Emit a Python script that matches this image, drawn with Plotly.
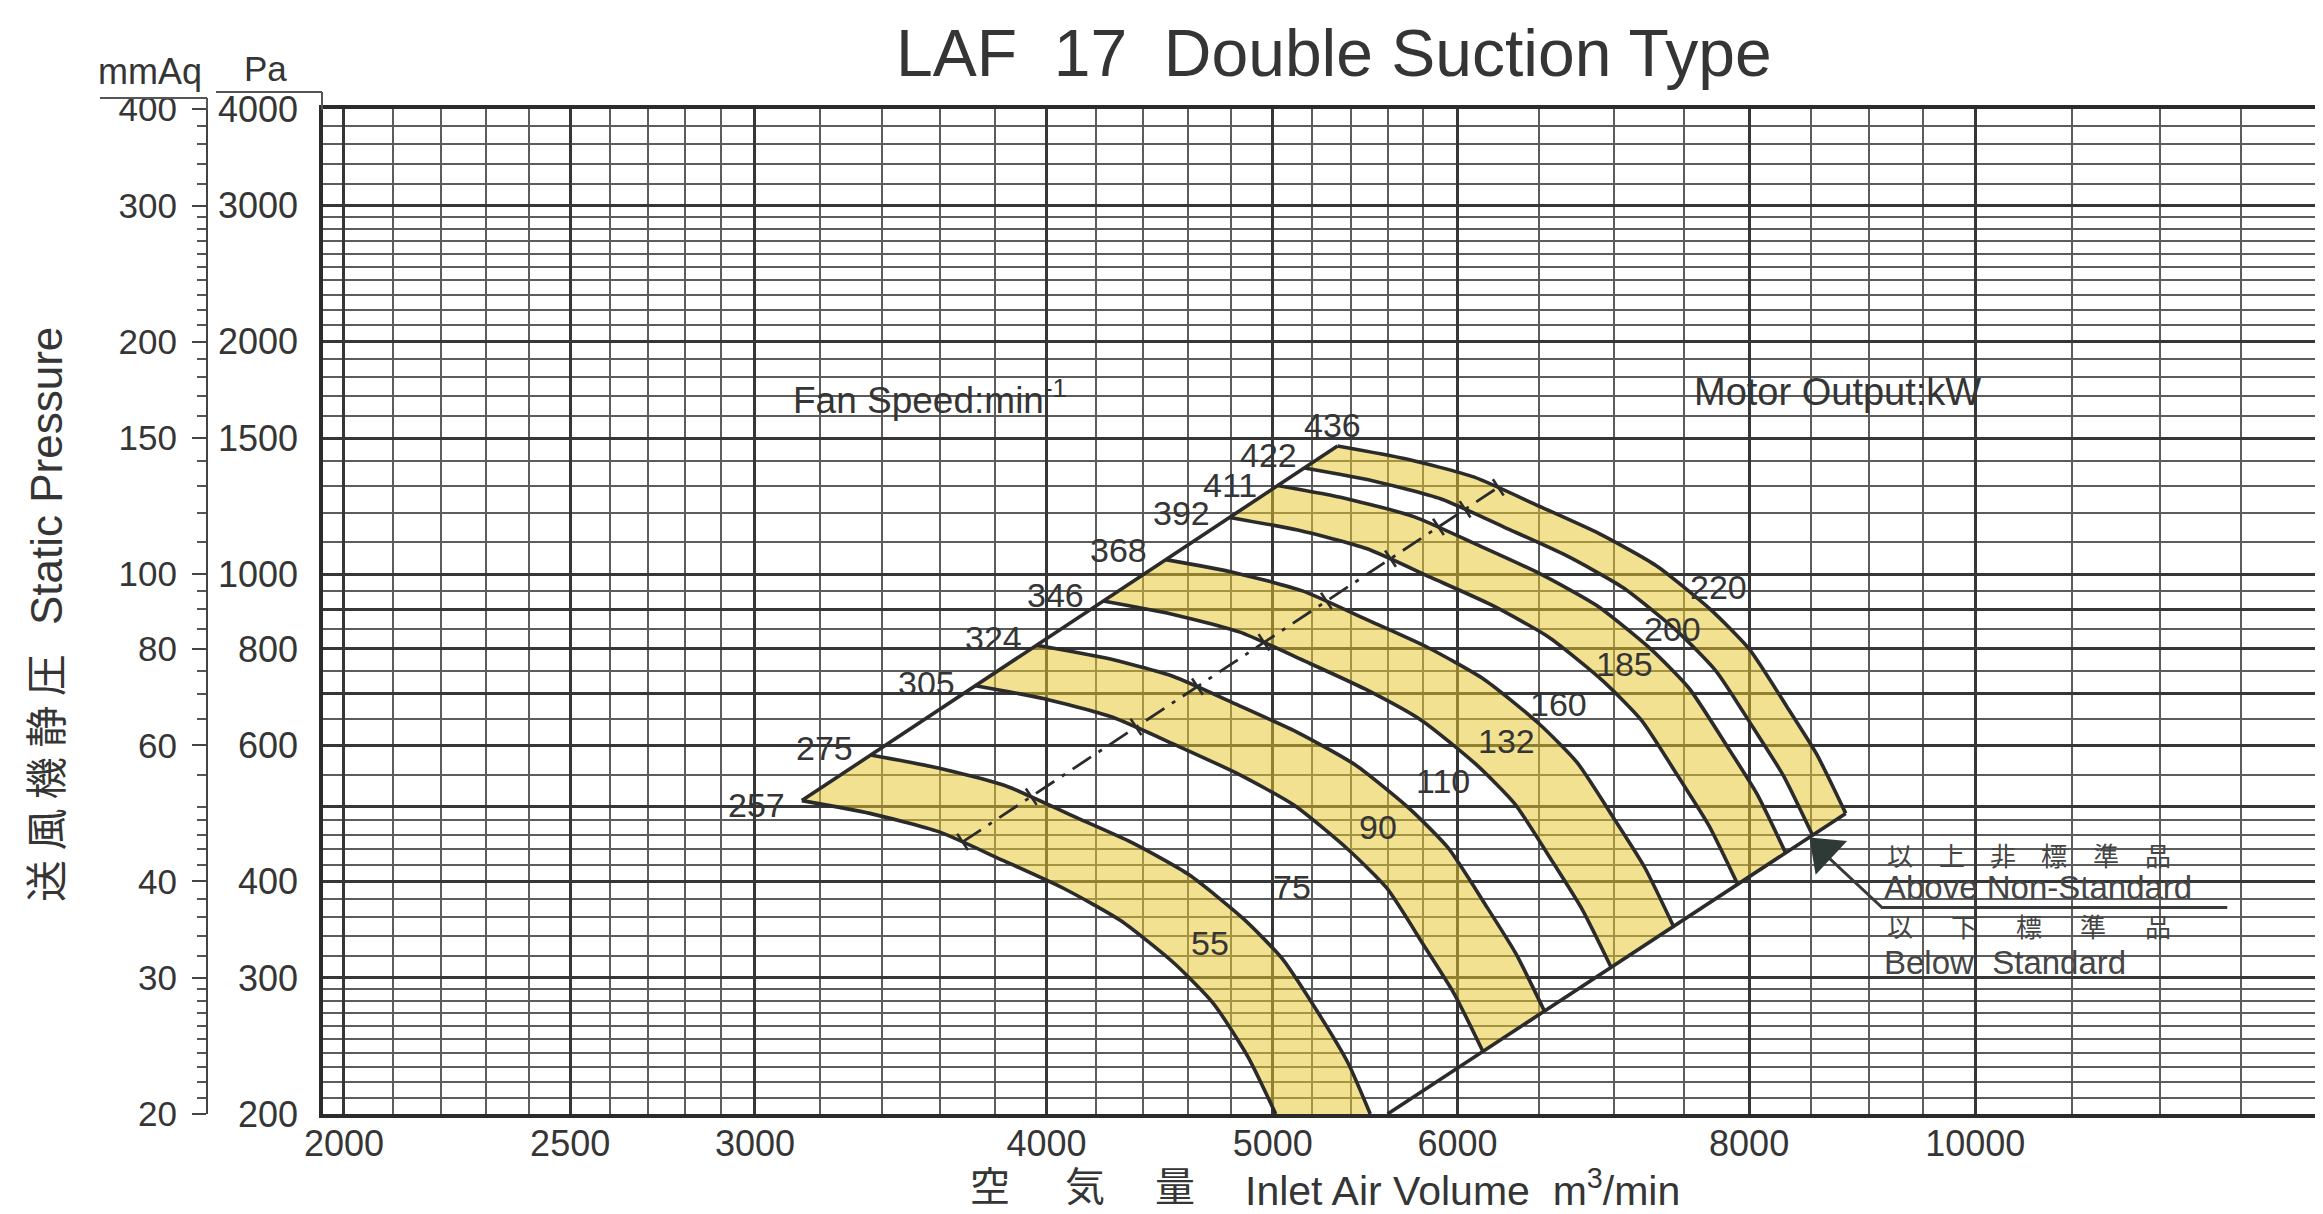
import numpy as np
import plotly.graph_objects as go

W, H = 2323, 1214

# ---------------- axes ----------------
X_RANGE = [1959, 14204]          # inlet air volume, m3/min
Y_RANGE = [200, 4000]            # static pressure, Pa
MMAQ_RANGE = [20, 400]           # static pressure, mmAq

X_MAJOR = [2000, 2500, 3000, 4000, 5000, 6000, 8000, 10000]
X_MAJOR_TEXT = ["2000", "2500", "3000", "4000", "5000", "6000", "8000", "10000"]
X_MINOR = [2100, 2200, 2300, 2400, 2600, 2700, 2800, 2900,
           3200, 3400, 3600, 3800, 4200, 4400, 4600, 4800,
           5200, 5400, 5600, 5800, 6500, 7000, 7500, 8500, 9000, 9500,
           11000, 12000, 13000, 14000]

Y_MAJOR = [200, 300, 400, 500, 600, 700, 800, 900, 1000, 1500, 2000, 3000, 4000]
Y_MAJOR_TEXT = ["200", "300", "400", " ", "600", " ", "800", " ", "1000", "1500", "2000", "3000", "4000"]
Y_MINOR = [210, 220, 230, 240, 250, 260, 270, 280, 290,
           320, 340, 360, 380, 420, 440, 460, 480, 550, 650, 750, 850, 950,
           1100, 1200, 1300, 1400, 1600, 1700, 1800, 1900,
           2100, 2200, 2300, 2400, 2500, 2600, 2700, 2800, 2900,
           3200, 3400, 3600, 3800]

MMAQ_TICKS = [20, 30, 40, 60, 80, 100, 150, 200, 300, 400]
MMAQ_TEXT = ["20", "30", "40", "60", "80", "100", "150", "200", "300", "400"]
MMAQ_MINOR = [21, 22, 23, 24, 25, 26, 27, 28, 29,
              32, 34, 36, 38, 42, 44, 46, 48, 50, 55, 65, 70, 75, 85, 90, 95,
              110, 120, 130, 140, 160, 170, 180, 190,
              210, 220, 230, 240, 250, 260, 270, 280, 290,
              320, 340, 360, 380]

# ---------------- fan speed curves (Q m3/min, P Pa) ----------------
SPEEDS = [257, 275, 305, 324, 346, 368, 392, 411, 422, 436]
Q_257 = [3142, 3360, 3596, 3831, 4067, 4303, 4539, 4716, 4880, 5015]
P_257 = [509, 490, 464, 426, 392, 356, 313, 278, 237, 200]
Q_275 = [3362, 3595, 3848, 4100, 4352, 4604, 4857, 5046, 5235, 5385, 5505]
P_275 = [583, 561, 531, 487, 449, 408, 358, 318, 269, 233, 200]
Q_305 = [3729, 3987, 4267, 4547, 4827, 5107, 5386, 5596, 5806, 5981, 6156]
P_305 = [717, 690, 653, 600, 552, 502, 440, 392, 330, 286, 240]
Q_324 = [3961, 4236, 4533, 4830, 5128, 5425, 5722, 5945, 6168, 6354, 6540]
P_324 = [809, 779, 737, 677, 623, 566, 497, 442, 373, 323, 271]
Q_346 = [4230, 4523, 4841, 5158, 5476, 5793, 6111, 6349, 6587, 6785, 6984]
P_346 = [923, 888, 841, 772, 710, 646, 567, 504, 425, 368, 309]
Q_368 = [4499, 4811, 5149, 5486, 5824, 6162, 6499, 6752, 7006, 7217, 7428]
P_368 = [1044, 1005, 951, 873, 804, 730, 641, 570, 481, 417, 349]
Q_392 = [4792, 5125, 5484, 5844, 6204, 6563, 6923, 7193, 7462, 7687, 7912]
P_392 = [1184, 1140, 1079, 990, 912, 829, 728, 647, 546, 473, 396]
Q_411 = [5024, 5373, 5750, 6127, 6504, 6881, 7259, 7541, 7824, 8060, 8295]
P_411 = [1302, 1253, 1186, 1089, 1002, 911, 800, 711, 600, 520, 435]
Q_422 = [5159, 5517, 5904, 6291, 6678, 7066, 7453, 7743, 8034, 8276, 8517]
P_422 = [1372, 1321, 1251, 1148, 1057, 960, 843, 749, 632, 548, 459]
Q_436 = [5330, 5700, 6100, 6500, 6900, 7300, 7700, 8000, 8300, 8550, 8800]
P_436 = [1465, 1410, 1335, 1225, 1128, 1025, 900, 800, 675, 585, 490]

CURVES = {257: (Q_257, P_257), 275: (Q_275, P_275), 305: (Q_305, P_305),
          324: (Q_324, P_324), 346: (Q_346, P_346), 368: (Q_368, P_368),
          392: (Q_392, P_392), 411: (Q_411, P_411), 422: (Q_422, P_422),
          436: (Q_436, P_436)}

BANDS = [(257, 275), (305, 324), (346, 368), (392, 411), (422, 436)]

# lower-right limit line (standard / non-standard)
LIMIT_Q = [5600, 8800]
LIMIT_P = [200, 490]

# dash-dot line with cross ticks where it meets each speed curve
EFF_Q = [3682, 6246]
EFF_P = [450, 1295]
EFF_TICK_Q = [3682, 3940, 4369, 4642, 4957, 5272, 5616, 5888, 6045, 6246]
EFF_TICK_P = [450, 515, 634, 715, 816, 923, 1047, 1151, 1213, 1295]

# labels
RPM_LABEL_Q = [3006, 3213, 3554, 3796, 4037, 4294, 4568, 4795, 4977, 5305]
RPM_LABEL_P = [503, 595, 723, 827, 940, 1076, 1200, 1305, 1428, 1561]

KW_TEXT = ["55", "75", "90", "110", "132", "160", "185", "200", "220"]
KW_Q = [4700, 5097, 5548, 5914, 6300, 6630, 7076, 7418, 7762]
KW_P = [333, 394, 470, 540, 608, 679, 765, 849, 962]

FAN_TEXT_QP = (3110, 1692)
MOTOR_TEXT_QP = (7560, 1720)

# pointer: tip, elbow, end ; arrow head centre
POINTER_Q = [8537, 9121, 12822]
POINTER_P = [446, 370, 370]
ARROW_QP = (8614, 438)
NOTE_Q = 9118
NOTE_EN_P = [393, 314]
NOTE_EN_TEXT = ["Above Non-Standard", "Below&nbsp;&nbsp;Standard"]
NOTE_CJK_1 = ["以", "上", "非", "標", "準", "品"]
NOTE_CJK_2 = ["以", "下", "標", "準", "品"]

# ---------------- style ----------------
DARK = "#2b2b2b"
TEXT = "#353535"
GRID_MAJOR = "#363636"
GRID_MINOR = "#5c5c5c"
YELLOW = "rgba(232, 198, 46, 0.52)"
FONT = "Liberation Sans, Arial, Helvetica, sans-serif"
CJK = "Noto Sans CJK JP, Noto Sans CJK SC, sans-serif"

lg = np.log10
fig = go.Figure()

# yellow bands
for lo, hi in BANDS:
    ql, pl = CURVES[lo]
    qh, ph = CURVES[hi]
    fig.add_trace(go.Scatter(x=list(qh) + list(ql[::-1]), y=list(ph) + list(pl[::-1]),
                             mode="none", fill="toself", fillcolor=YELLOW,
                             hoverinfo="skip", showlegend=False))

# speed curves
for n in SPEEDS:
    q, p = CURVES[n]
    fig.add_trace(go.Scatter(x=q, y=p, mode="lines",
                             line=dict(color=DARK, width=3.6, shape="spline", smoothing=0.6),
                             hoverinfo="skip", showlegend=False))

# surge line through curve starts
fig.add_trace(go.Scatter(x=[CURVES[n][0][0] for n in SPEEDS], y=[CURVES[n][1][0] for n in SPEEDS],
                         mode="lines", line=dict(color=DARK, width=3.6),
                         hoverinfo="skip", showlegend=False))
# limit line
fig.add_trace(go.Scatter(x=LIMIT_Q, y=LIMIT_P, mode="lines", line=dict(color=DARK, width=3.6),
                         hoverinfo="skip", showlegend=False))
# dash-dot line
fig.add_trace(go.Scatter(x=EFF_Q, y=EFF_P, mode="lines",
                         line=dict(color=DARK, width=2.8, dash="22px,9px,4px,9px"),
                         hoverinfo="skip", showlegend=False))
fig.add_trace(go.Scatter(x=EFF_TICK_Q, y=EFF_TICK_P, mode="markers",
                         marker=dict(symbol="line-ns", size=14, angle=-33.5,
                                     line=dict(color=DARK, width=2.6)),
                         hoverinfo="skip", showlegend=False))
# pointer lines
fig.add_trace(go.Scatter(x=POINTER_Q, y=POINTER_P, mode="lines",
                         line=dict(color="#3a3a3a", width=3),
                         hoverinfo="skip", showlegend=False))
fig.add_trace(go.Scatter(x=[ARROW_QP[0]], y=[ARROW_QP[1]], mode="markers",
                         marker=dict(symbol="triangle-up", size=40, angle=-47, color="#2f3a36"),
                         hoverinfo="skip", showlegend=False))
# invisible trace for mmAq axis
fig.add_trace(go.Scatter(x=[3000], y=[100], yaxis="y2", mode="markers",
                         marker=dict(opacity=0), hoverinfo="skip", showlegend=False))

ann = []
def data_text(q, p, t, size, family=FONT, xanchor="center", color=TEXT):
    ann.append(dict(x=lg(q), y=lg(p), xref="x", yref="y", text=t, showarrow=False,
                    xanchor=xanchor, yanchor="middle",
                    font=dict(family=family, size=size, color=color)))

for n, q, p in zip(SPEEDS, RPM_LABEL_Q, RPM_LABEL_P):
    data_text(q, p, str(n), 34)
for t, q, p in zip(KW_TEXT, KW_Q, KW_P):
    data_text(q, p, t, 34)
data_text(FAN_TEXT_QP[0], FAN_TEXT_QP[1], "Fan Speed:min<sup>-1</sup>", 37, xanchor="left")
data_text(MOTOR_TEXT_QP[0], MOTOR_TEXT_QP[1], "Motor Output:kW", 38, xanchor="left")
for t, p in zip(NOTE_EN_TEXT, NOTE_EN_P):
    data_text(NOTE_Q, p, t, 33, xanchor="left", color="#454545")

# titles (paper coordinates = whole figure since margins are 0)
def P(px, py):
    return px / W, 1 - py / H

def paper_text(px, py, t, size, family=FONT, angle=0, xanchor="center", color=TEXT):
    x_, y_ = P(px, py)
    ann.append(dict(x=x_, y=y_, xref="paper", yref="paper", text=t, showarrow=False,
                    xanchor=xanchor, yanchor="middle", textangle=angle,
                    font=dict(family=family, size=size, color=color)))

for k, ch in enumerate(NOTE_CJK_1):
    paper_text(1892 + k * 51.5, 847, ch, 26, family=CJK, color="#454545")
for k, ch in enumerate(NOTE_CJK_2):
    paper_text(1892 + k * 64.4, 918, ch, 26, family=CJK, color="#454545")

paper_text(1326, 45, "LAF&nbsp;&nbsp;17&nbsp;&nbsp;Double Suction Type", 66)
for t, px in [("空", 982), ("気", 1077), ("量", 1167)]:
    paper_text(px, 1176, t, 40, family=CJK)
paper_text(1235, 1180, "Inlet Air Volume&nbsp;&nbsp;m<sup>3</sup>/min", 41, xanchor="left")
paper_text(38, 468, "Static Pressure", 44, angle=-90)
paper_text(35, 770, "送 風 機 静 圧", 42, family=CJK, angle=-90)
paper_text(142, 64, "mmAq", 36)
paper_text(257, 60, "Pa", 35)

shapes = []
def seg(x0, y0, x1, y1, w=2, c="#555555"):
    a0, b0 = P(x0, y0)
    a1, b1 = P(x1, y1)
    shapes.append(dict(type="line", xref="paper", yref="paper", x0=a0, y0=b0, x1=a1, y1=b1,
                       line=dict(color=c, width=w)))
seg(92, 90, 199, 90)
seg(199, 90, 199, 102)
seg(208, 84, 314, 84)
seg(314, 84, 314, 102)

x_dom = [315 / W, 1.0]
y_dom = [108 / H, 1 - 101 / H]

fig.update_layout(
    width=W, height=H,
    margin=dict(l=0, r=0, t=0, b=0),
    paper_bgcolor="white", plot_bgcolor="white",
    showlegend=False,
    annotations=ann, shapes=shapes,
    xaxis=dict(type="log", range=[lg(X_RANGE[0]), lg(X_RANGE[1])], domain=x_dom,
               tickvals=X_MAJOR, ticktext=X_MAJOR_TEXT, ticks="",
               showgrid=True, gridcolor=GRID_MAJOR, gridwidth=3,
               minor=dict(tickvals=X_MINOR, showgrid=True, gridcolor=GRID_MINOR, gridwidth=1.7, ticks=""),
               showline=True, linecolor=DARK, linewidth=3.5, mirror=True, zeroline=False,
               tickfont=dict(family=FONT, size=36, color=TEXT), ticklabelstandoff=-5,
               automargin=False, anchor="y"),
    yaxis=dict(type="log", range=[lg(Y_RANGE[0]), lg(Y_RANGE[1])], domain=y_dom,
               tickvals=Y_MAJOR, ticktext=Y_MAJOR_TEXT, ticks="",
               showgrid=True, gridcolor=GRID_MAJOR, gridwidth=3,
               minor=dict(tickvals=Y_MINOR, showgrid=True, gridcolor=GRID_MINOR, gridwidth=1.7, ticks=""),
               showline=True, linecolor=DARK, linewidth=3.5, mirror=True, zeroline=False,
               tickfont=dict(family=FONT, size=36, color=TEXT), ticklabelstandoff=14,
               automargin=False, anchor="x"),
    yaxis2=dict(type="log", range=[lg(MMAQ_RANGE[0]), lg(MMAQ_RANGE[1])], overlaying="y",
                anchor="free", position=199 / W, side="left",
                tickvals=MMAQ_TICKS, ticktext=MMAQ_TEXT, ticks="outside", ticklen=14, tickwidth=2,
                tickcolor="#444444", showline=True, linecolor="#444444", linewidth=2,
                showgrid=False, zeroline=False,
                minor=dict(tickvals=MMAQ_MINOR, ticks="outside", ticklen=9, tickwidth=1.5,
                           tickcolor="#555555", showgrid=False),
                tickfont=dict(family=FONT, size=35, color=TEXT), ticklabelstandoff=8,
                automargin=False),
)

fig.write_html("out.html")
